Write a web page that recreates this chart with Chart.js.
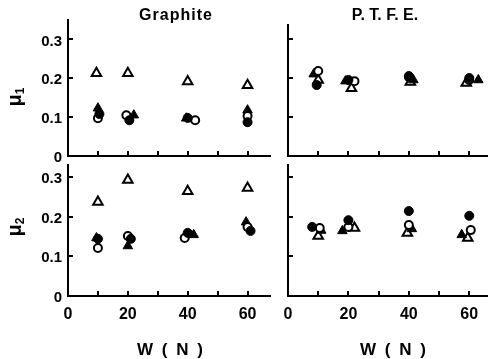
<!DOCTYPE html>
<html>
<head>
<meta charset="utf-8">
<script src="https://cdn.jsdelivr.net/npm/chart.js@4/dist/chart.umd.min.js"></script>
<style>
  html, body { margin: 0; padding: 0; background: #fff; }
  #wrap { position: relative; width: 488px; height: 359px; overflow: hidden;
          font-family: "Liberation Sans", Arial, sans-serif; color: #000; }
  canvas { position: absolute; }
  .lbl { position: absolute; white-space: nowrap; transform: translate(-50%, -50%);
         font-weight: bold; line-height: 1; }
  .ttl { font-size: 16px; letter-spacing: 1px; }
  .ptfe { letter-spacing: 0; }
  .wn  { font-size: 17px; letter-spacing: 2px; }
  .mu  { font-size: 20px; transform: translate(-50%, -50%) rotate(-90deg); }
  .mu sub { font-size: 12px; vertical-align: -3px; }
</style>
</head>
<body>
<div id="wrap">
  <canvas id="grMu1" width="275" height="168" style="left:0;top:0"></canvas>
  <canvas id="ptMu1" width="208" height="168" style="left:280px;top:0"></canvas>
  <canvas id="grMu2" width="275" height="199" style="left:0;top:160px"></canvas>
  <canvas id="ptMu2" width="208" height="199" style="left:280px;top:160px"></canvas>

  <div class="lbl ttl" style="left:176px;top:15px">Graphite</div>
  <div class="lbl ttl ptfe" style="left:385px;top:15px">P. T. F. E.</div>
  <div class="lbl wn" style="left:171px;top:349px">W ( N )</div>
  <div class="lbl wn" style="left:394px;top:349px">W ( N )</div>
  <div class="lbl mu" style="left:15px;top:97px">μ<sub>1</sub></div>
  <div class="lbl mu" style="left:15px;top:227px">μ<sub>2</sub></div>
</div>

<script>
// Friction coefficients against applied load W (N); each point is [W, mu].
// Graphite, mu1
const grMu1OpenTri    = [[9.5, 0.213], [20, 0.213], [40, 0.192], [60, 0.182]];
const grMu1FilledTri  = [[10, 0.123], [22, 0.105], [39.5, 0.097], [60, 0.118]];
const grMu1OpenCirc   = [[10, 0.097], [19.5, 0.105], [42.5, 0.092], [60, 0.103]];
const grMu1FilledCirc = [[10.5, 0.108], [20.5, 0.092], [40, 0.098], [60, 0.087]];

// P.T.F.E., mu1
const ptMu1OpenTri    = [[10, 0.195], [21, 0.174], [40.5, 0.190], [59, 0.187]];
const ptMu1FilledTri  = [[8.5, 0.210], [19, 0.192], [41.5, 0.195], [63, 0.195]];
const ptMu1OpenCirc   = [[10, 0.218], [22, 0.192], [40, 0.203], [60, 0.195]];
const ptMu1FilledCirc = [[9.5, 0.182], [20, 0.195], [40, 0.205], [60, 0.200]];

// Graphite, mu2
const grMu2OpenTri    = [[10, 0.237], [20, 0.292], [40, 0.264], [60, 0.272]];
const grMu2FilledTri  = [[9.5, 0.146], [20, 0.126], [42, 0.154], [59.5, 0.186]];
const grMu2OpenCirc   = [[10, 0.121], [20, 0.151], [39, 0.146], [60, 0.174]];
const grMu2FilledCirc = [[10, 0.144], [21, 0.144], [40, 0.159], [61, 0.164]];

// P.T.F.E., mu2
const ptMu2OpenTri    = [[10, 0.151], [22, 0.171], [39.5, 0.159], [59.5, 0.146]];
const ptMu2FilledTri  = [[11, 0.165], [18, 0.164], [41, 0.169], [57.5, 0.154]];
const ptMu2OpenCirc   = [[10.5, 0.171], [20, 0.174], [40, 0.179], [60.5, 0.166]];
const ptMu2FilledCirc = [[8, 0.174], [20, 0.191], [40, 0.214], [60, 0.202]];

const loadTickStep = 10;
const loadLabelStep = 20;
const muTickStep = 0.1;

// Marker looks shared by all panels
const markerStyles = {
  openTri:    { pointStyle: 'triangle', pointRadius: 5.5, pointBackgroundColor: '#fff', pointBorderColor: '#000', pointBorderWidth: 2 },
  filledTri:  { pointStyle: 'triangle', pointRadius: 5.5, pointBackgroundColor: '#000', pointBorderColor: '#000', pointBorderWidth: 1 },
  openCirc:   { pointStyle: 'circle',   pointRadius: 4,   pointBackgroundColor: '#fff', pointBorderColor: '#000', pointBorderWidth: 2 },
  filledCirc: { pointStyle: 'circle',   pointRadius: 4.5, pointBackgroundColor: '#000', pointBorderColor: '#000', pointBorderWidth: 1 }
};

const toXY = pts => pts.map(([w, m]) => ({ x: w, y: m }));
const isMultiple = (v, step) => Math.abs(v / step - Math.round(v / step)) < 1e-6;

// Short tick marks drawn on the inner side of both axes
const inwardTicks = {
  id: 'inwardTicks',
  afterDraw(chart) {
    const { ctx, chartArea: a, scales: { x, y } } = chart;
    ctx.save();
    ctx.strokeStyle = '#000';
    ctx.lineWidth = 2;
    ctx.lineCap = 'butt';
    ctx.beginPath();
    x.ticks.forEach(t => {
      if (t.value > 0) {
        const px = Math.round(x.getPixelForValue(t.value));
        ctx.moveTo(px, a.bottom);
        ctx.lineTo(px, a.bottom - 5);
      }
    });
    y.ticks.forEach(t => {
      if (t.value > 0) {
        const py = Math.round(y.getPixelForValue(t.value));
        ctx.moveTo(a.left, py);
        ctx.lineTo(a.left + 5, py);
      }
    });
    ctx.stroke();
    ctx.restore();
  }
};

function panel(id, sets, g) {
  new Chart(document.getElementById(id), {
    type: 'scatter',
    data: {
      datasets: [
        Object.assign({ data: toXY(sets.filledCirc) }, markerStyles.filledCirc),
        Object.assign({ data: toXY(sets.openCirc) }, markerStyles.openCirc),
        Object.assign({ data: toXY(sets.filledTri) }, markerStyles.filledTri),
        Object.assign({ data: toXY(sets.openTri) }, markerStyles.openTri)
      ]
    },
    options: {
      responsive: false,
      animation: false,
      devicePixelRatio: 1,
      layout: { autoPadding: false, padding: { left: 0, top: g.top, right: g.right, bottom: 0 } },
      plugins: { legend: { display: false }, tooltip: { enabled: false } },
      scales: {
        x: {
          type: 'linear', min: 0, max: g.xMax,
          grid: { display: false, drawTicks: false },
          border: { display: true, color: '#000', width: 2 },
          ticks: {
            display: g.xLabels, stepSize: loadTickStep, includeBounds: false,
            padding: 9, color: '#000', maxRotation: 0, autoSkip: false,
            font: { family: '"Liberation Sans", Arial, sans-serif', size: 16, weight: 'bold' },
            callback: v => (isMultiple(v, loadLabelStep) ? String(v) : '')
          },
          afterBuildTicks: s => { s.ticks = s.ticks.filter(t => isMultiple(t.value, loadTickStep)); },
          afterFit: s => { s.height = g.xAxisH; s.paddingLeft = 0; s.paddingRight = 0; }
        },
        y: {
          type: 'linear', min: 0, max: g.yMax,
          grid: { display: false, drawTicks: false },
          border: { display: true, color: '#000', width: 2 },
          ticks: {
            display: g.yLabels, stepSize: muTickStep, includeBounds: false,
            padding: 6, labelOffset: 2, color: '#000',
            font: { family: '"Liberation Sans", Arial, sans-serif', size: 15, weight: 'bold' },
            callback: v => (Math.abs(v) < 1e-9 ? '0' : v.toFixed(1))
          },
          afterBuildTicks: s => { s.ticks = s.ticks.filter(t => isMultiple(t.value, muTickStep)); },
          afterFit: s => { s.width = g.yAxisW; s.paddingTop = 0; s.paddingBottom = 0; }
        }
      }
    },
    plugins: [inwardTicks]
  });
}

panel('grMu1',
  { openTri: grMu1OpenTri, filledTri: grMu1FilledTri, openCirc: grMu1OpenCirc, filledCirc: grMu1FilledCirc },
  { top: 20, right: 5, xMax: 67.5, yMax: 0.35, xAxisH: 12, yAxisW: 68, xLabels: false, yLabels: true });

panel('ptMu1',
  { openTri: ptMu1OpenTri, filledTri: ptMu1FilledTri, openCirc: ptMu1OpenCirc, filledCirc: ptMu1FilledCirc },
  { top: 25, right: 0, xMax: 66.2, yMax: 0.336, xAxisH: 12, yAxisW: 8, xLabels: false, yLabels: false });

panel('grMu2',
  { openTri: grMu2OpenTri, filledTri: grMu2FilledTri, openCirc: grMu2OpenCirc, filledCirc: grMu2FilledCirc },
  { top: 5, right: 5, xMax: 67.5, yMax: 0.33, xAxisH: 63, yAxisW: 68, xLabels: true, yLabels: true });

panel('ptMu2',
  { openTri: ptMu2OpenTri, filledTri: ptMu2FilledTri, openCirc: ptMu2OpenCirc, filledCirc: ptMu2FilledCirc },
  { top: 5, right: 0, xMax: 66.2, yMax: 0.33, xAxisH: 63, yAxisW: 8, xLabels: true, yLabels: false });
</script>
</body>
</html>
